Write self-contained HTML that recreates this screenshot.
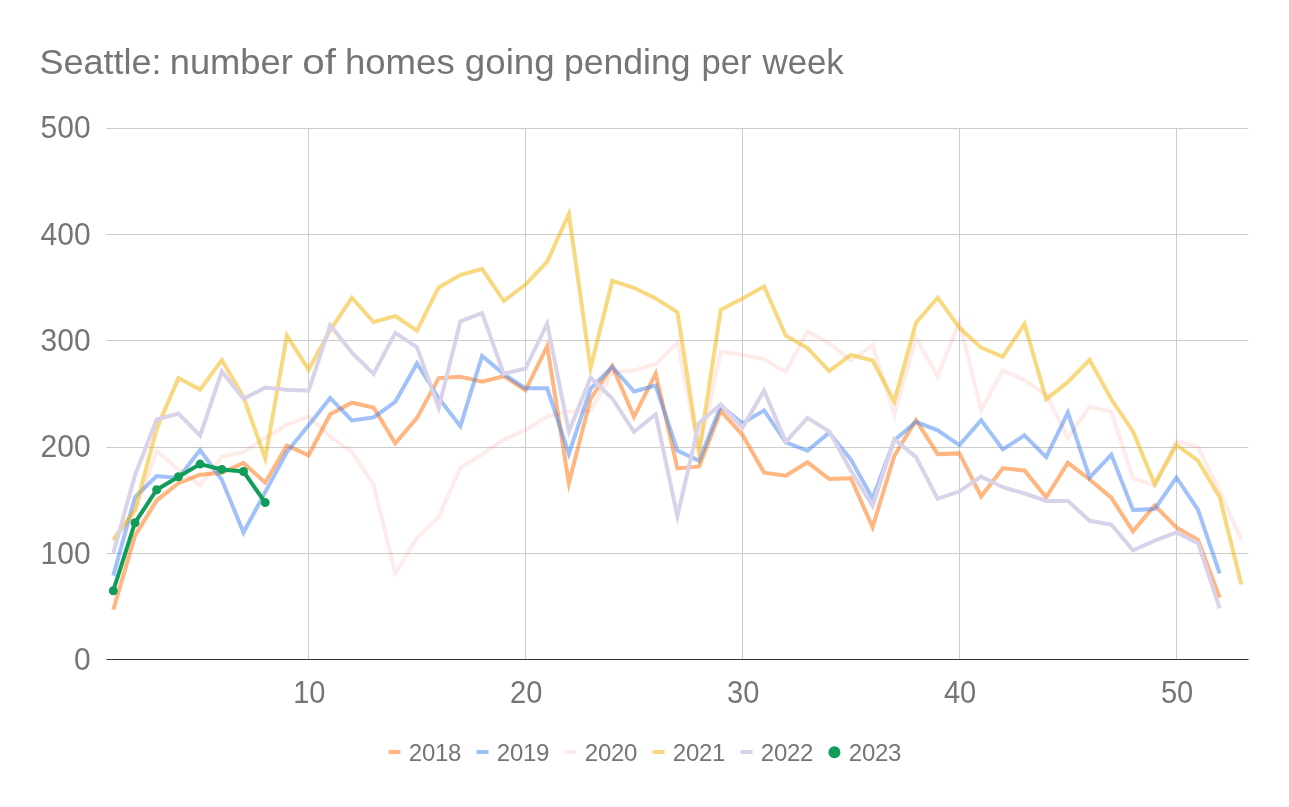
<!DOCTYPE html>
<html lang="en"><head><meta charset="utf-8"><title>Seattle: number of homes going pending per week</title>
<style>html,body{margin:0;padding:0;background:#fff}svg{display:block}text{font-family:"Liberation Sans",sans-serif;fill:#757575}</style></head><body>
<svg width="1289" height="807" viewBox="0 0 1289 807">
<rect width="1289" height="807" fill="#fff"/>
<text y="73.6" font-size="35.5"><tspan x="39.40" textLength="122.13" lengthAdjust="spacingAndGlyphs">Seattle:</tspan> <tspan x="169.70" textLength="123.18" lengthAdjust="spacingAndGlyphs">number</tspan> <tspan x="302.34" textLength="33.75" lengthAdjust="spacingAndGlyphs">of</tspan> <tspan x="344.95" textLength="109.74" lengthAdjust="spacingAndGlyphs">homes</tspan> <tspan x="464.85" textLength="89.88" lengthAdjust="spacingAndGlyphs">going</tspan> <tspan x="564.00" textLength="126.43" lengthAdjust="spacingAndGlyphs">pending</tspan> <tspan x="701.59" textLength="50.07" lengthAdjust="spacingAndGlyphs">per</tspan> <tspan x="762.52" textLength="81.23" lengthAdjust="spacingAndGlyphs">week</tspan></text>
<g stroke="#cccccc" stroke-width="1" fill="none"><path d="M106.5 553.5H1248.5"/><path d="M106.5 447.5H1248.5"/><path d="M106.5 340.5H1248.5"/><path d="M106.5 234.5H1248.5"/><path d="M106.5 128.5H1248.5"/><path d="M308.5 128V659"/><path d="M525.5 128V659"/><path d="M742.5 128V659"/><path d="M959.5 128V659"/><path d="M1176.5 128V659"/></g>
<polyline points="113.3,609.6 135.0,535.6 156.7,500.4 178.4,483.2 200.1,474.7 221.8,472.8 243.5,462.9 265.2,482.7 286.9,445.5 308.6,455.3 330.2,414.2 351.9,402.7 373.6,407.5 395.3,443.3 417.0,417.9 438.7,378.1 460.4,376.8 482.1,381.8 503.8,376.2 525.5,390.3 547.2,346.2 568.9,483.2 590.6,398.8 612.3,366.0 634.0,416.8 655.7,373.6 677.4,468.4 699.1,466.4 720.8,410.8 742.5,434.9 764.1,472.7 785.8,475.7 807.5,462.3 829.2,479.0 850.9,478.2 872.6,527.3 894.3,455.8 916.0,420.1 937.7,454.1 959.4,453.4 981.1,496.5 1002.8,468.3 1024.5,470.5 1046.2,497.3 1067.9,462.8 1089.6,479.5 1111.3,497.7 1133.0,531.4 1154.7,505.4 1176.4,527.5 1198.0,539.9 1219.7,597.7" fill="none" stroke="#ff6d01" stroke-opacity="0.5" stroke-width="4" stroke-miterlimit="10"/>
<polyline points="113.3,575.6 135.0,497.1 156.7,476.0 178.4,477.9 200.1,450.0 221.8,479.8 243.5,532.5 265.2,492.1 286.9,452.1 308.6,425.3 330.2,398.0 351.9,420.4 373.6,417.4 395.3,401.8 417.0,363.4 438.7,398.2 460.4,426.2 482.1,356.0 503.8,374.1 525.5,388.3 547.2,388.3 568.9,453.9 590.6,388.5 612.3,366.8 634.0,391.5 655.7,385.5 677.4,450.6 699.1,460.9 720.8,406.1 742.5,423.2 764.1,410.4 785.8,442.3 807.5,450.8 829.2,432.6 850.9,459.5 872.6,498.5 894.3,440.4 916.0,421.8 937.7,430.3 959.4,445.1 981.1,420.1 1002.8,449.4 1024.5,435.3 1046.2,457.2 1067.9,412.6 1089.6,477.6 1111.3,454.6 1133.0,510.1 1154.7,509.1 1176.4,477.5 1198.0,509.7 1219.7,573.5" fill="none" stroke="#4285f4" stroke-opacity="0.5" stroke-width="4" stroke-miterlimit="10"/>
<polyline points="113.3,541.6 135.0,511.9 156.7,451.3 178.4,469.4 200.1,485.4 221.8,456.7 243.5,452.1 265.2,437.8 286.9,424.8 308.6,416.3 330.2,437.0 351.9,451.7 373.6,484.7 395.3,573.1 417.0,537.9 438.7,516.9 460.4,467.9 482.1,454.3 503.8,439.5 525.5,430.0 547.2,416.5 568.9,411.6 590.6,410.9 612.3,372.5 634.0,370.3 655.7,364.1 677.4,342.6 699.1,452.4 720.8,351.8 742.5,354.8 764.1,359.3 785.8,371.8 807.5,331.8 829.2,343.2 850.9,360.3 872.6,345.3 894.3,414.8 916.0,337.8 937.7,376.3 959.4,321.8 981.1,410.2 1002.8,370.3 1024.5,380.0 1046.2,394.8 1067.9,437.9 1089.6,406.7 1111.3,411.6 1133.0,478.3 1154.7,485.1 1176.4,440.9 1198.0,447.1 1219.7,491.0 1241.4,539.9" fill="none" stroke="#ea4335" stroke-opacity="0.1" stroke-width="4" stroke-miterlimit="10"/>
<polyline points="113.3,539.5 135.0,509.8 156.7,429.0 178.4,378.1 200.1,389.6 221.8,360.1 243.5,397.2 265.2,458.4 286.9,335.7 308.6,369.7 330.2,330.3 351.9,297.7 373.6,322.1 395.3,316.0 417.0,330.6 438.7,287.4 460.4,275.1 482.1,268.9 503.8,301.0 525.5,284.6 547.2,261.6 568.9,214.0 590.6,368.0 612.3,280.8 634.0,287.8 655.7,298.4 677.4,312.2 699.1,451.5 720.8,309.7 742.5,298.5 764.1,286.5 785.8,335.7 807.5,348.1 829.2,371.1 850.9,354.9 872.6,360.5 894.3,401.4 916.0,322.6 937.7,297.6 959.4,327.6 981.1,347.6 1002.8,356.8 1024.5,323.9 1046.2,399.4 1067.9,381.9 1089.6,359.9 1111.3,399.3 1133.0,431.4 1154.7,484.3 1176.4,445.0 1198.0,460.7 1219.7,497.2 1241.4,584.6" fill="none" stroke="#f2b400" stroke-opacity="0.5" stroke-width="4" stroke-miterlimit="10"/>
<polyline points="113.3,553.0 135.0,475.2 156.7,419.5 178.4,413.5 200.1,435.6 221.8,371.7 243.5,398.8 265.2,387.6 286.9,389.8 308.6,390.8 330.2,325.2 351.9,352.6 373.6,373.9 395.3,332.8 417.0,347.3 438.7,407.9 460.4,321.3 482.1,313.1 503.8,373.8 525.5,368.5 547.2,323.7 568.9,431.6 590.6,377.6 612.3,398.5 634.0,431.8 655.7,414.3 677.4,516.1 699.1,422.7 720.8,404.6 742.5,427.6 764.1,390.6 785.8,441.9 807.5,417.8 829.2,431.3 850.9,470.7 872.6,506.0 894.3,439.2 916.0,457.1 937.7,498.8 959.4,491.3 981.1,476.5 1002.8,487.2 1024.5,493.5 1046.2,500.9 1067.9,500.9 1089.6,520.8 1111.3,524.5 1133.0,550.3 1154.7,540.7 1176.4,532.4 1198.0,543.1 1219.7,608.4" fill="none" stroke="#d9d2e9" stroke-opacity="1.0" stroke-width="4" stroke-miterlimit="10"/>
<polyline points="113.3,590.7 135.0,522.7 156.7,489.7 178.4,476.8 200.1,464.1 221.8,469.4 243.5,471.5 265.2,502.6" fill="none" stroke="#0f9d58" stroke-opacity="1.0" stroke-width="4" stroke-miterlimit="10"/>
<g fill="#0f9d58"><circle cx="113.3" cy="590.7" r="4.5"/><circle cx="135.0" cy="522.7" r="4.5"/><circle cx="156.7" cy="489.7" r="4.5"/><circle cx="178.4" cy="476.8" r="4.5"/><circle cx="200.1" cy="464.1" r="4.5"/><circle cx="221.8" cy="469.4" r="4.5"/><circle cx="243.5" cy="471.5" r="4.5"/><circle cx="265.2" cy="502.6" r="4.5"/></g>
<path d="M106.5 659.5H1248.5" stroke="#333333" stroke-width="1" fill="none"/>
<text transform="translate(90.6 669.7) scale(1 1.065)" font-size="30" text-anchor="end">0</text>
<text transform="translate(90.6 563.5) scale(1 1.065)" font-size="30" text-anchor="end">100</text>
<text transform="translate(90.6 457.3) scale(1 1.065)" font-size="30" text-anchor="end">200</text>
<text transform="translate(90.6 351.1) scale(1 1.065)" font-size="30" text-anchor="end">300</text>
<text transform="translate(90.6 244.9) scale(1 1.065)" font-size="30" text-anchor="end">400</text>
<text transform="translate(90.6 137.7) scale(1 1.065)" font-size="30" text-anchor="end">500</text>
<text transform="translate(309.3 703) scale(0.97 1.065)" font-size="30" text-anchor="middle">10</text>
<text transform="translate(526.2 703) scale(0.97 1.065)" font-size="30" text-anchor="middle">20</text>
<text transform="translate(743.2 703) scale(0.97 1.065)" font-size="30" text-anchor="middle">30</text>
<text transform="translate(960.1 703) scale(0.97 1.065)" font-size="30" text-anchor="middle">40</text>
<text transform="translate(1177.1 703) scale(0.97 1.065)" font-size="30" text-anchor="middle">50</text>
<rect x="388.5" y="750" width="12" height="4" fill="#ff6d01" fill-opacity="0.5"/>
<text x="408.8" y="761.3" font-size="24" textLength="52.6" lengthAdjust="spacing">2018</text>
<rect x="476.5" y="750" width="12" height="4" fill="#4285f4" fill-opacity="0.5"/>
<text x="496.8" y="761.3" font-size="24" textLength="52.6" lengthAdjust="spacing">2019</text>
<rect x="564.5" y="750" width="12" height="4" fill="#ea4335" fill-opacity="0.1"/>
<text x="584.8" y="761.3" font-size="24" textLength="52.6" lengthAdjust="spacing">2020</text>
<rect x="652.5" y="750" width="12" height="4" fill="#f2b400" fill-opacity="0.5"/>
<text x="672.8" y="761.3" font-size="24" textLength="52.6" lengthAdjust="spacing">2021</text>
<rect x="740.5" y="750" width="12" height="4" fill="#d9d2e9" fill-opacity="1.0"/>
<text x="760.8" y="761.3" font-size="24" textLength="52.6" lengthAdjust="spacing">2022</text>
<circle cx="834.4" cy="752.3" r="6" fill="#0f9d58"/>
<text x="848.8" y="761.3" font-size="24" textLength="52.6" lengthAdjust="spacing">2023</text>
</svg></body></html>
